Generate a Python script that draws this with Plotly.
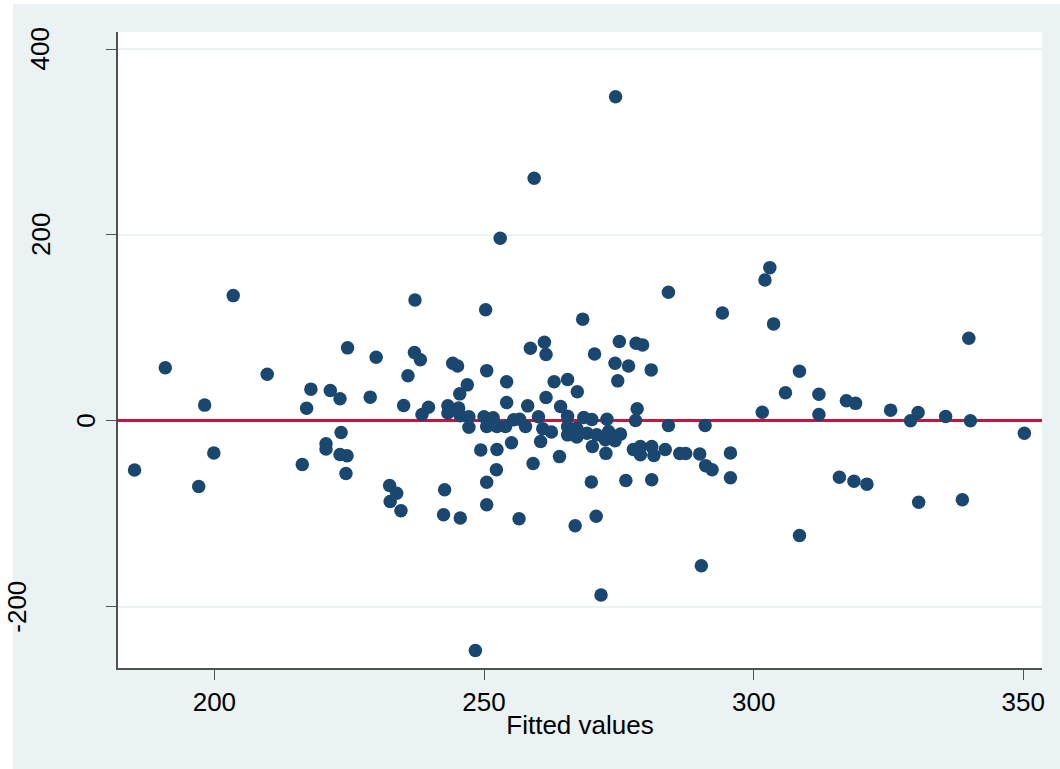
import plotly.graph_objects as go

# Fitted values (x) and residuals (y)
fitted = [
    185.2, 190.9, 197.1, 198.2, 199.9, 203.5, 209.8, 216.3, 217.1, 217.9,
    220.7, 220.7, 221.5, 223.3, 223.5, 223.3, 224.6, 224.4, 224.7, 228.9,
    230.0, 232.5, 233.8, 232.6, 234.6, 235.1, 235.9, 237.2, 237.1, 238.2,
    238.5, 239.7, 242.7, 242.5, 243.3, 243.3, 244.2, 245.1, 245.3, 245.5,
    245.6, 245.6, 246.9, 247.2, 247.2, 248.4, 249.4, 250.0, 250.3, 250.5,
    250.5, 250.5, 250.5, 251.7, 252.4, 252.4, 252.3, 253.0, 254.0, 254.2,
    254.2, 255.1, 255.5, 256.6, 256.5, 257.7, 258.1, 258.6, 259.1, 259.3,
    260.1, 260.5, 260.9, 261.2, 261.5, 261.5, 262.5, 263.0, 264.2, 264.0,
    265.5, 265.5, 265.5, 265.5, 266.9, 267.2, 267.2, 267.3, 268.3, 268.5,
    269.1, 269.9, 270.0, 270.1, 270.5, 270.8, 270.9, 271.7, 272.5, 272.6,
    272.8, 273.1, 274.3, 274.3, 274.4, 274.8, 275.1, 275.3, 276.3, 276.8,
    277.7, 278.1, 278.2, 278.4, 279.0, 279.0, 279.4, 281.0, 281.1, 281.1,
    281.5, 283.6, 284.2, 284.2, 286.3, 287.4, 290.0, 290.3, 291.0, 291.1,
    292.3, 294.2, 295.7, 295.7, 301.6, 302.1, 303.0, 303.7, 305.9, 308.5,
    308.5, 312.1, 312.1, 315.9, 317.2, 318.9, 318.6, 321.0, 325.4, 329.1,
    330.5, 330.6, 335.6, 338.7, 339.9, 340.2, 350.2,
]
residuals = [
    -53.0, 57.0, -70.7, 16.9, -34.7, 134.7, 50.2, -47.0, 13.6, 34.1,
    -24.7, -30.4, 32.6, 23.7, -12.5, -36.2, -37.6, -56.6, 78.5, 25.5,
    68.5, -69.5, -77.8, -86.8, -96.8, 16.5, 48.4, 130.1, 73.4, 65.6,
    6.8, 14.7, -74.2, -101.0, 16.1, 8.5, 62.0, 58.9, 13.7, 29.0,
    5.4, -104.6, 38.7, 4.3, -7.0, -247.0, -31.4, 4.3, 119.4, 54.0,
    -6.1, -66.0, -90.3, 3.4, -6.1, -30.8, -52.7, 196.4, -6.1, 42.0,
    19.7, -23.6, 1.1, 1.8, -105.4, -6.1, 16.1, 78.0, -46.0, 261.0,
    4.5, -22.2, -8.5, 84.5, 71.3, 25.1, -12.0, 42.0, 15.4, -38.5,
    44.5, 5.0, -6.1, -15.1, -112.9, -8.0, -17.5, 31.2, 109.4, 3.5,
    -13.3, -65.8, 1.5, -27.6, 71.8, -102.7, -15.1, -187.4, -20.4, -35.0,
    1.8, -11.5, -21.5, 62.0, 348.7, 43.0, 85.3, -14.3, -64.2, 59.1,
    -30.8, 0.3, 83.5, 12.9, -27.6, -36.6, 81.7, 54.8, -63.4, -27.6,
    -37.3, -30.8, 138.4, -5.0, -35.2, -35.2, -35.6, -155.9, -5.0, -48.2,
    -52.7, 116.0, -34.7, -61.3, 9.3, 151.6, 164.8, 104.3, 30.1, 53.4,
    -123.3, 28.7, 6.8, -60.6, 21.5, 18.8, -64.9, -68.1, 11.5, 0.0,
    8.9, -87.5, 4.6, -85.0, 88.9, 0.0, -13.3,
]

x_ticks = [200, 250, 300, 350]
y_ticks = [400, 200, 0, -200]
y_tick_labels = ["400", "200", "0", "-200"]

FONT = "Liberation Sans, Arial, Helvetica, sans-serif"
NAVY = "#1A476F"
BG = "#EAF2F3"
AXIS = "#505050"

W, H = 1060, 769
ML, MR, MT, MB = 118, 18, 32, 101
PW, PH = W - ML - MR, H - MT - MB

fig = go.Figure()
fig.add_trace(go.Scatter(
    x=fitted, y=residuals, mode="markers",
    marker=dict(color=NAVY, size=13.5, line=dict(width=0)),
    showlegend=False, hoverinfo="x+y",
))

# Stata-style graph region (light blue-grey) and white plot region
fig.add_shape(type="rect", xref="paper", yref="paper", layer="below",
              x0=(13 - ML) / PW, x1=1.2, y0=-0.3, y1=(H - MB - 4) / PH,
              fillcolor=BG, line=dict(width=0))
fig.add_shape(type="rect", xref="paper", yref="paper", layer="below",
              x0=0, x1=1, y0=0, y1=1, fillcolor="white", line=dict(width=0))

# Rotated y tick labels, placed like Stata does (offset depends on label length)
label_centers = {"400": 40.5, "200": 41.0, "0": 86.0, "-200": 17.0}
for v, t in zip(y_ticks, y_tick_labels):
    fig.add_annotation(x=0, xref="paper", y=v, yref="y", text=t,
                       showarrow=False, textangle=-90, xanchor="center",
                       yanchor="middle", xshift=label_centers[t] - ML,
                       font=dict(family=FONT, size=26, color="black"))

fig.update_layout(
    width=W, height=H,
    margin=dict(l=ML, r=MR, t=MT, b=MB, pad=0),
    paper_bgcolor="white", plot_bgcolor="rgba(0,0,0,0)",
    font=dict(family=FONT, size=26, color="black"),
    showlegend=False,
)
fig.update_xaxes(
    range=[182.13, 353.47], tickvals=x_ticks, ticktext=[str(v) for v in x_ticks],
    showgrid=False, zeroline=False,
    showline=True, linecolor=AXIS, linewidth=1.5,
    ticks="outside", ticklen=10, tickwidth=1, tickcolor=AXIS,
    tickfont=dict(family=FONT, size=26, color="black"), ticklabelstandoff=0,
    title=dict(text="Fitted values", font=dict(family=FONT, size=26, color="black"),
               standoff=0),
)
fig.update_yaxes(
    range=[-265.9, 418.3], tickvals=y_ticks, showticklabels=False,
    showgrid=True, gridcolor=BG, gridwidth=1.5,
    zeroline=True, zerolinecolor="#C8143C", zerolinewidth=2.5,
    showline=True, linecolor=AXIS, linewidth=1.5,
    ticks="outside", ticklen=10, tickwidth=1, tickcolor=AXIS,
)

fig.write_html("out.html")
